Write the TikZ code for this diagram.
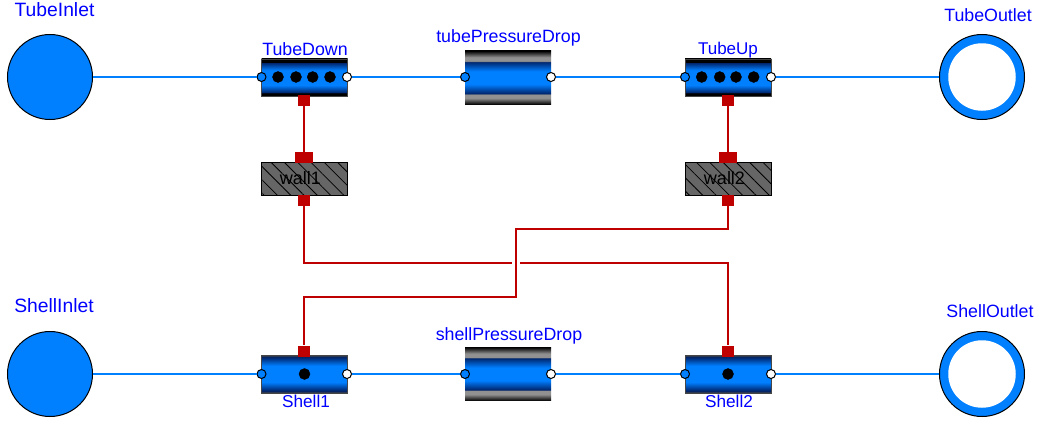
\documentclass[tikz,border=0pt]{standalone}
\usepackage{fontspec}
\setmainfont{Liberation Sans}
\usetikzlibrary{patterns.meta}
\definecolor{flowblue}{RGB}{0,127,255}
\definecolor{flowdark}{RGB}{0,35,105}
\definecolor{heatred}{RGB}{191,0,0}
\definecolor{labelblue}{RGB}{0,0,255}
\definecolor{wallgray}{RGB}{102,102,102}
\definecolor{pipegray}{RGB}{145,145,145}
\definecolor{edgegray}{RGB}{70,70,70}
\pgfdeclareverticalshading{dropflow}{100bp}{
    color(0bp)=(black); color(25bp)=(black); color(31bp)=(pipegray); color(34.7bp)=(pipegray);
    color(35bp)=(flowdark); color(44bp)=(flowblue); color(56bp)=(flowblue);
    color(65bp)=(flowdark); color(65.3bp)=(pipegray); color(69bp)=(pipegray);
    color(75bp)=(black); color(100bp)=(black)}
\pgfdeclareverticalshading{tubeflow}{100bp}{
    color(0bp)=(black); color(29.5bp)=(black); color(30bp)=(flowdark); color(40bp)=(flowblue);
    color(60bp)=(flowblue); color(70bp)=(flowdark); color(70.5bp)=(black); color(100bp)=(black)}
\pgfdeclareverticalshading{shellflow}{100bp}{
    color(0bp)=(edgegray); color(25bp)=(edgegray); color(27.5bp)=(flowdark); color(39bp)=(flowblue);
    color(61bp)=(flowblue); color(72.5bp)=(flowdark); color(75bp)=(edgegray); color(100bp)=(edgegray)}
\tikzset{
    lbl/.style={text=labelblue, inner sep=0pt, font=\fontsize{17.8}{20}\selectfont},
    lblbig/.style={lbl, font=\fontsize{19.3}{22}\selectfont},
    lblwide/.style={lbl, font=\fontsize{17.2}{20}\selectfont},
    source/.style={circle, draw=black, line width=1pt, fill=flowblue, minimum size=85pt, inner sep=0pt},
    sink/.style={source},
    sinkhole/.style={circle, fill=white, minimum size=67.5pt, inner sep=0pt},
    tubeblock/.style={draw=edgegray, line width=0.5pt, shade, shading=tubeflow, minimum width=86pt, minimum height=37.5pt, inner sep=0pt},
    shellblock/.style={draw=edgegray, line width=0.5pt, shade, shading=shellflow, minimum width=86pt, minimum height=37.5pt, inner sep=0pt},
    dropblock/.style={shade, shading=dropflow, minimum width=86pt, minimum height=53.5pt, inner sep=0pt},
    wallblock/.style={draw=black, line width=1pt, preaction={fill=wallgray},
        pattern={Lines[angle=-45,distance=9.4pt,line width=0.8pt]}, minimum width=86pt, minimum height=33pt, inner sep=0pt},
    walltext/.style={inner sep=0pt, font=\fontsize{18}{20}\selectfont},
    flowin/.style={circle, draw=black, line width=1pt, fill=flowblue, minimum size=9pt, inner sep=0pt},
    flowout/.style={circle, draw=black, line width=1pt, fill=white, minimum size=9pt, inner sep=0pt},
    heatport/.style={fill=heatred, minimum width=11.3pt, minimum height=11pt, inner sep=0pt},
    heatbig/.style={fill=heatred, minimum width=18pt, minimum height=11pt, inner sep=0pt},
    flowline/.style={draw=flowblue, line width=1.5pt},
    heatline/.style={draw=heatred, line width=1.6pt},
}
\begin{document}
\begin{tikzpicture}[x=1pt,y=-1pt]
\useasboundingbox (0,0) rectangle (1039,423);
% fluid connections run beneath the blocks
\node[source] (TubeInlet) at (50,77) {};
\node[sink] (TubeOutlet) at (982,77) {};
\node[source] (ShellInlet) at (50,374) {};
\node[sink] (ShellOutlet) at (982,374) {};
\node[sinkhole] (TubeOutletHole) at (982,77) {};
\node[sinkhole] (ShellOutletHole) at (982,374) {};
% tube row
\node[tubeblock] (TubeDown) at (304.5,77.7) {};
\node[dropblock] (tubePressureDrop) at (508,77.7) {};
\node[tubeblock] (TubeUp) at (728,77.7) {};
% shell row
\node[shellblock] (Shell1) at (304.5,374) {};
\node[dropblock] (shellPressureDrop) at (508,374) {};
\node[shellblock] (Shell2) at (728,374) {};
% walls
\node[wallblock] (wall1) at (304.5,178.5) {};
\node[wallblock] (wall2) at (728,178.5) {};
\node[walltext] (wall1Lbl) at (300.5,178) {wall1};
\node[walltext] (wall2Lbl) at (724.5,178) {wall2};
% fluid ports
\node[flowin] (TubeDownA) at (261.5,77) {};
\node[flowout] (TubeDownB) at (347,77) {};
\node[flowin] (tubeDropA) at (465,77) {};
\node[flowout] (tubeDropB) at (551,77) {};
\node[flowin] (TubeUpA) at (685,77) {};
\node[flowout] (TubeUpB) at (771,77) {};
\node[flowin] (Shell1A) at (261.5,374) {};
\node[flowout] (Shell1B) at (347,374) {};
\node[flowin] (shellDropA) at (465,374) {};
\node[flowout] (shellDropB) at (551,374) {};
\node[flowin] (Shell2A) at (685,374) {};
\node[flowout] (Shell2B) at (771,374) {};
% heat ports
\node[heatport] (TubeDownQ) at (304,100.5) {};
\node[heatport] (TubeUpQ) at (728,100.5) {};
\node[heatbig] (wall1top) at (304,157.5) {};
\node[heatbig] (wall2top) at (728,157.5) {};
\node[heatport] (wall1bot) at (304,200.5) {};
\node[heatport] (wall2bot) at (728,200.5) {};
\node[heatport] (Shell1Q) at (304,351) {};
\node[heatport] (Shell2Q) at (728,351) {};
% tube dots
\draw[black,fill] (278,77) circle (5.5);
\draw[black,fill] (296,77) circle (5.5);
\draw[black,fill] (312.7,77) circle (5.5);
\draw[black,fill] (330,77) circle (5.5);
\draw[black,fill] (701.7,77) circle (5.5);
\draw[black,fill] (719.7,77) circle (5.5);
\draw[black,fill] (736,77) circle (5.5);
\draw[black,fill] (753.7,77) circle (5.5);
\draw[black,fill] (304.5,374) circle (5.5);
\draw[black,fill] (728,374) circle (5.5);
% fluid connections
\draw[flowline] (TubeInlet) -- (TubeDownA);
\draw[flowline] (TubeDownB) -- (tubeDropA);
\draw[flowline] (tubeDropB) -- (TubeUpA);
\draw[flowline] (TubeUpB) -- (TubeOutlet);
\draw[flowline] (ShellInlet) -- (Shell1A);
\draw[flowline] (Shell1B) -- (shellDropA);
\draw[flowline] (shellDropB) -- (Shell2A);
\draw[flowline] (Shell2B) -- (ShellOutlet);
% heat connections
\draw[heatline] (TubeDownQ) -- (wall1top);
\draw[heatline] (TubeUpQ) -- (wall2top);
\coordinate (hopL) at (511.7,263);
\coordinate (hopR) at (520,263);
\draw[heatline] (wall1bot.south) |- (hopL);
\draw[heatline] (hopR) -| (Shell2Q.north);
\draw[heatline] (wall2bot.south) |- (516,229) -- (516,297) -| (Shell1Q.north);
% labels
\node[lblbig] (TubeInletLbl) at (54.5,10) {TubeInlet};
\node[lbl] (TubeDownLbl) at (305,49.5) {TubeDown};
\node[lbl] (tubePressureDropLbl) at (508.5,38) {tubePressureDrop};
\node[lblwide, font=\fontsize{17}{20}\selectfont] (TubeUpLbl) at (728,50.5) {TubeUp};
\node[lbl] (TubeOutletLbl) at (988,15) {TubeOutlet};
\node[lblbig] (ShellInletLbl) at (54,306) {ShellInlet};
\node[lbl] (shellPressureDropLbl) at (509,336) {shellPressureDrop};
\node[lblwide] (Shell1Lbl) at (306,401) {Shell1};
\node[lblwide] (Shell2Lbl) at (729,401) {Shell2};
\node[lbl] (ShellOutletLbl) at (990,311) {ShellOutlet};
\end{tikzpicture}
\end{document}
